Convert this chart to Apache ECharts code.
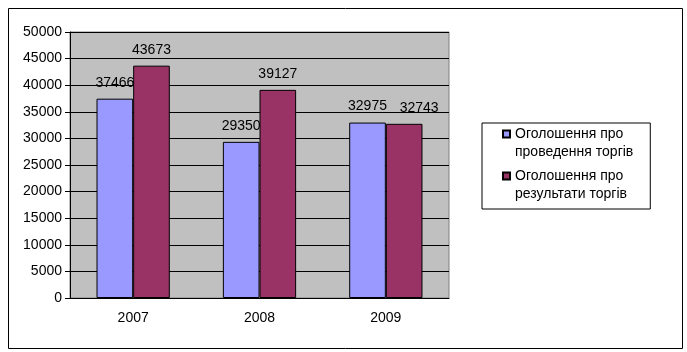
<!DOCTYPE html>
<html>
<head>
<meta charset="utf-8">
<script src="https://cdn.jsdelivr.net/npm/echarts@6/dist/echarts.min.js"></script>
<style>
  html, body { margin: 0; padding: 0; background: #fff; }
  #chart { width: 687px; height: 352px; }
</style>
</head>
<body>
<div id="chart"></div>
<script>
var years = ['2007', '2008', '2009'];
var seriesNames = ['Оголошення про\nпроведення торгів', 'Оголошення про\nрезультати торгів'];
var announceHeld = [37466, 29350, 32975];
var announceResults = [43673, 39127, 32743];

var font = '"Liberation Sans", Arial, sans-serif';
// square at top, empty moveTo below so the icon lines up with the first text line
var legendIcon = 'path://M0,0H7V7H0Z M0,25';

var myChart = echarts.init(document.getElementById('chart'));

// 2009 labels sit side by side, the second one is nudged right like in the original
var resultsData = announceResults.map(function (v, i) {
  if (i === 2) {
    return { value: v, label: { offset: [15, 0] } };
  }
  return v;
});

var option = {
  animation: false,
  textStyle: { fontFamily: font },
  graphic: [
    {
      type: 'rect',
      left: 6,
      top: 6,
      shape: { width: 674, height: 340 },
      style: { fill: 'none', stroke: '#000', lineWidth: 1 },
      z: -1,
    },
  ],
  grid: {
    left: 70,
    top: 32,
    right: 238,
    bottom: 54,
    show: true,
    backgroundColor: '#c0c0c0',
    borderColor: '#808080',
    borderWidth: 1,
  },
  legend: {
    orient: 'vertical',
    left: 482,
    top: 123,
    padding: [2, 17, 6, 20],
    itemGap: 6,
    itemWidth: 7,
    itemHeight: 25,
    icon: legendIcon,
    borderColor: '#000',
    borderWidth: 1,
    textStyle: { color: '#000', fontSize: 14, lineHeight: 18, fontFamily: font },
    data: seriesNames,
  },
  xAxis: {
    type: 'category',
    data: years,
    axisLine: { lineStyle: { color: '#000', width: 1 } },
    axisTick: { length: 5, lineStyle: { color: '#000' } },
    axisLabel: { color: '#000', fontSize: 14, margin: 13 },
  },
  yAxis: {
    type: 'value',
    min: 0,
    max: 50000,
    interval: 5000,
    axisLine: { show: true, lineStyle: { color: '#000', width: 1 } },
    axisTick: { show: true, length: 5, lineStyle: { color: '#000' } },
    axisLabel: {
      color: '#000',
      fontSize: 14,
      margin: 8,
      formatter: function (v) {
        return String(v);
      },
    },
    splitLine: { lineStyle: { color: '#000', width: 1 } },
  },
  series: [
    {
      name: seriesNames[0],
      type: 'bar',
      data: announceHeld,
      barGap: '0%',
      barCategoryGap: '42%',
      itemStyle: { color: '#9999ff', borderColor: '#000', borderWidth: 1 },
      label: { show: true, position: 'top', distance: 9, color: '#000', fontSize: 14 },
    },
    {
      name: seriesNames[1],
      type: 'bar',
      data: resultsData,
      itemStyle: { color: '#993366', borderColor: '#000', borderWidth: 1 },
      label: { show: true, position: 'top', distance: 9, color: '#000', fontSize: 14 },
    },
  ],
};

myChart.setOption(option);
</script>
</body>
</html>
